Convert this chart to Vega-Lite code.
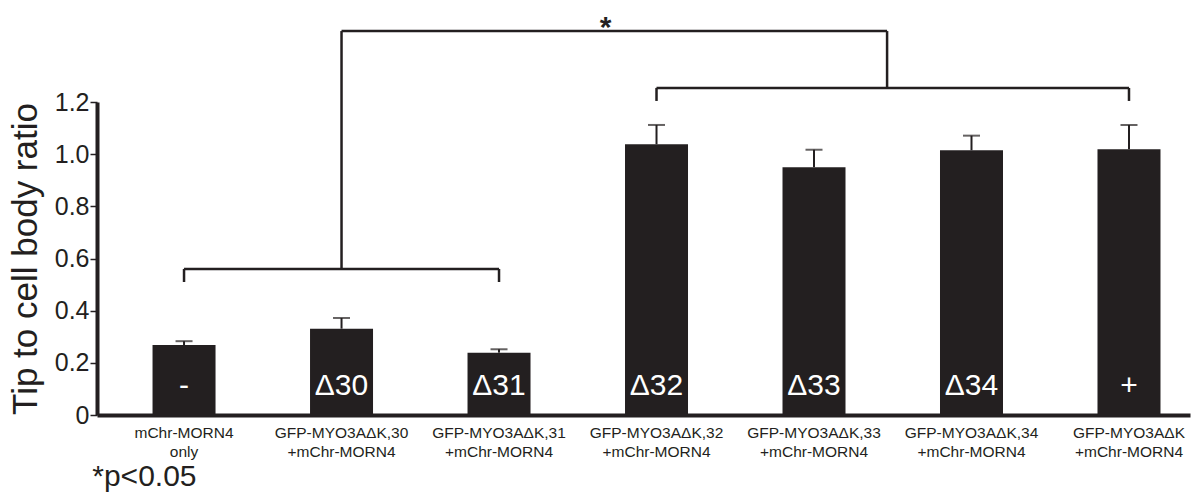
{
  "$schema": "https://vega.github.io/schema/vega-lite/v6.json",
  "width": 1093,
  "height": 313,
  "autosize": {"type": "none"},
  "padding": {"left": 97, "top": 102, "right": 4, "bottom": 85},
  "config": {"view": {"stroke": null}, "font": "Liberation Sans"},
  "title": {"text": "*p<0.05", "orient": "bottom", "anchor": "start", "fontSize": 30, "fontWeight": "normal", "offset": 2, "color": "#231f20", "font": "Liberation Sans", "dx": 84},
  "datasets": {
    "bars": [
      {"group": "mChr-MORN4|only", "tag": "-", "ratio": 0.268, "upper": 0.283},
      {"group": "GFP-MYO3AΔK,30|+mChr-MORN4", "tag": "Δ30", "ratio": 0.331, "upper": 0.372},
      {"group": "GFP-MYO3AΔK,31|+mChr-MORN4", "tag": "Δ31", "ratio": 0.239, "upper": 0.252},
      {"group": "GFP-MYO3AΔK,32|+mChr-MORN4", "tag": "Δ32", "ratio": 1.038, "upper": 1.112},
      {"group": "GFP-MYO3AΔK,33|+mChr-MORN4", "tag": "Δ33", "ratio": 0.95, "upper": 1.017},
      {"group": "GFP-MYO3AΔK,34|+mChr-MORN4", "tag": "Δ34", "ratio": 1.015, "upper": 1.071},
      {"group": "GFP-MYO3AΔK|+mChr-MORN4", "tag": "+", "ratio": 1.019, "upper": 1.112}
    ],
    "brackets": [
      {"a": "mChr-MORN4|only", "b": "GFP-MYO3AΔK,31|+mChr-MORN4", "y1": 0.56, "y2": 0.56},
      {"a": "mChr-MORN4|only", "b": "mChr-MORN4|only", "y1": 0.51, "y2": 0.56},
      {"a": "GFP-MYO3AΔK,31|+mChr-MORN4", "b": "GFP-MYO3AΔK,31|+mChr-MORN4", "y1": 0.51, "y2": 0.56},
      {"a": "GFP-MYO3AΔK,30|+mChr-MORN4", "b": "GFP-MYO3AΔK,30|+mChr-MORN4", "y1": 0.56, "y2": 1.472},
      {"a": "GFP-MYO3AΔK,32|+mChr-MORN4", "b": "GFP-MYO3AΔK|+mChr-MORN4", "y1": 1.254, "y2": 1.254},
      {"a": "GFP-MYO3AΔK,32|+mChr-MORN4", "b": "GFP-MYO3AΔK,32|+mChr-MORN4", "y1": 1.204, "y2": 1.254},
      {"a": "GFP-MYO3AΔK|+mChr-MORN4", "b": "GFP-MYO3AΔK|+mChr-MORN4", "y1": 1.204, "y2": 1.254}
    ],
    "top": [
      {"a": "GFP-MYO3AΔK,30|+mChr-MORN4", "b": "GFP-MYO3AΔK,33|+mChr-MORN4", "y1": 1.472, "y2": 1.472}
    ],
    "topdrop": [
      {"a": "GFP-MYO3AΔK,33|+mChr-MORN4", "y1": 1.254, "y2": 1.472}
    ],
    "star": [
      {"a": "GFP-MYO3AΔK,32|+mChr-MORN4", "y": 1.45, "label": "*"}
    ]
  },
  "layer": [
    {
      "data": {"name": "bars"},
      "mark": {"type": "bar", "color": "#231f20"},
      "encoding": {
        "x": {
          "field": "group", "type": "nominal", "sort": null,
          "scale": {
            "type": "band",
            "domain": ["mChr-MORN4|only", "GFP-MYO3AΔK,30|+mChr-MORN4", "GFP-MYO3AΔK,31|+mChr-MORN4", "GFP-MYO3AΔK,32|+mChr-MORN4", "GFP-MYO3AΔK,33|+mChr-MORN4", "GFP-MYO3AΔK,34|+mChr-MORN4", "GFP-MYO3AΔK|+mChr-MORN4"],
            "paddingInner": 0.6, "paddingOuter": 0.27, "align": 0.653
          },
          "axis": {
            "title": null, "labelAngle": 0, "ticks": false, "domainWidth": 4, "domainColor": "#231f20",
            "labelFontSize": 15.5, "labelColor": "#231f20", "labelLineHeight": 19, "labelPadding": 10,
            "labelExpr": "split(datum.label, '|')", "labelFont": "Liberation Sans"
          }
        },
        "y": {
          "field": "ratio", "type": "quantitative",
          "scale": {"domain": [0, 1.2], "nice": false},
          "axis": {
            "title": "Tip to cell body ratio", "titleFontSize": 35, "titleFontWeight": "normal", "titleColor": "#231f20",
            "titlePadding": 11, "titleFont": "Liberation Sans",
            "values": [0, 0.2, 0.4, 0.6, 0.8, 1.0, 1.2],
            "labelExpr": "datum.value == 0 ? '0' : format(datum.value, '.1f')",
            "labelFontSize": 25, "labelColor": "#231f20", "labelPadding": 1, "labelFont": "Liberation Sans",
            "grid": false, "domainWidth": 4, "domainColor": "#231f20",
            "tickSize": 7, "tickWidth": 1.5, "tickColor": "#231f20"
          }
        }
      }
    },
    {
      "data": {"name": "bars"},
      "mark": {"type": "rule", "color": "#231f20", "strokeWidth": 2},
      "encoding": {
        "x": {"field": "group", "type": "nominal"},
        "y": {"field": "ratio", "type": "quantitative"},
        "y2": {"field": "upper"}
      }
    },
    {
      "data": {"name": "bars"},
      "mark": {"type": "tick", "color": "#231f20", "size": 17, "thickness": 2, "orient": "horizontal"},
      "encoding": {
        "x": {"field": "group", "type": "nominal"},
        "y": {"field": "upper", "type": "quantitative"}
      }
    },
    {
      "data": {"name": "bars"},
      "mark": {"type": "text", "color": "white", "fontSize": 30, "baseline": "alphabetic", "dy": -20, "font": "Liberation Sans"},
      "encoding": {
        "x": {"field": "group", "type": "nominal"},
        "y": {"datum": 0, "type": "quantitative"},
        "text": {"field": "tag"}
      }
    },
    {
      "data": {"name": "brackets"},
      "mark": {"type": "rule", "color": "#231f20", "strokeWidth": 2.5},
      "encoding": {
        "x": {"field": "a", "type": "nominal"},
        "x2": {"field": "b"},
        "y": {"field": "y1", "type": "quantitative"},
        "y2": {"field": "y2"}
      }
    },
    {
      "data": {"name": "top"},
      "mark": {"type": "rule", "color": "#231f20", "strokeWidth": 2.5},
      "encoding": {
        "x": {"field": "a", "type": "nominal", "bandPosition": 0.5},
        "x2": {"field": "b", "bandPosition": 1.66},
        "y": {"field": "y1", "type": "quantitative"},
        "y2": {"field": "y2"}
      }
    },
    {
      "data": {"name": "topdrop"},
      "mark": {"type": "rule", "color": "#231f20", "strokeWidth": 2.5},
      "encoding": {
        "x": {"field": "a", "type": "nominal", "bandPosition": 1.66},
        "y": {"field": "y1", "type": "quantitative"},
        "y2": {"field": "y2"}
      }
    },
    {
      "data": {"name": "star"},
      "mark": {"type": "text", "color": "#231f20", "fontSize": 30, "fontWeight": "bold", "baseline": "alphabetic", "dx": -51, "font": "Liberation Sans"},
      "encoding": {
        "x": {"field": "a", "type": "nominal"},
        "y": {"field": "y", "type": "quantitative"},
        "text": {"field": "label"}
      }
    }
  ]
}
